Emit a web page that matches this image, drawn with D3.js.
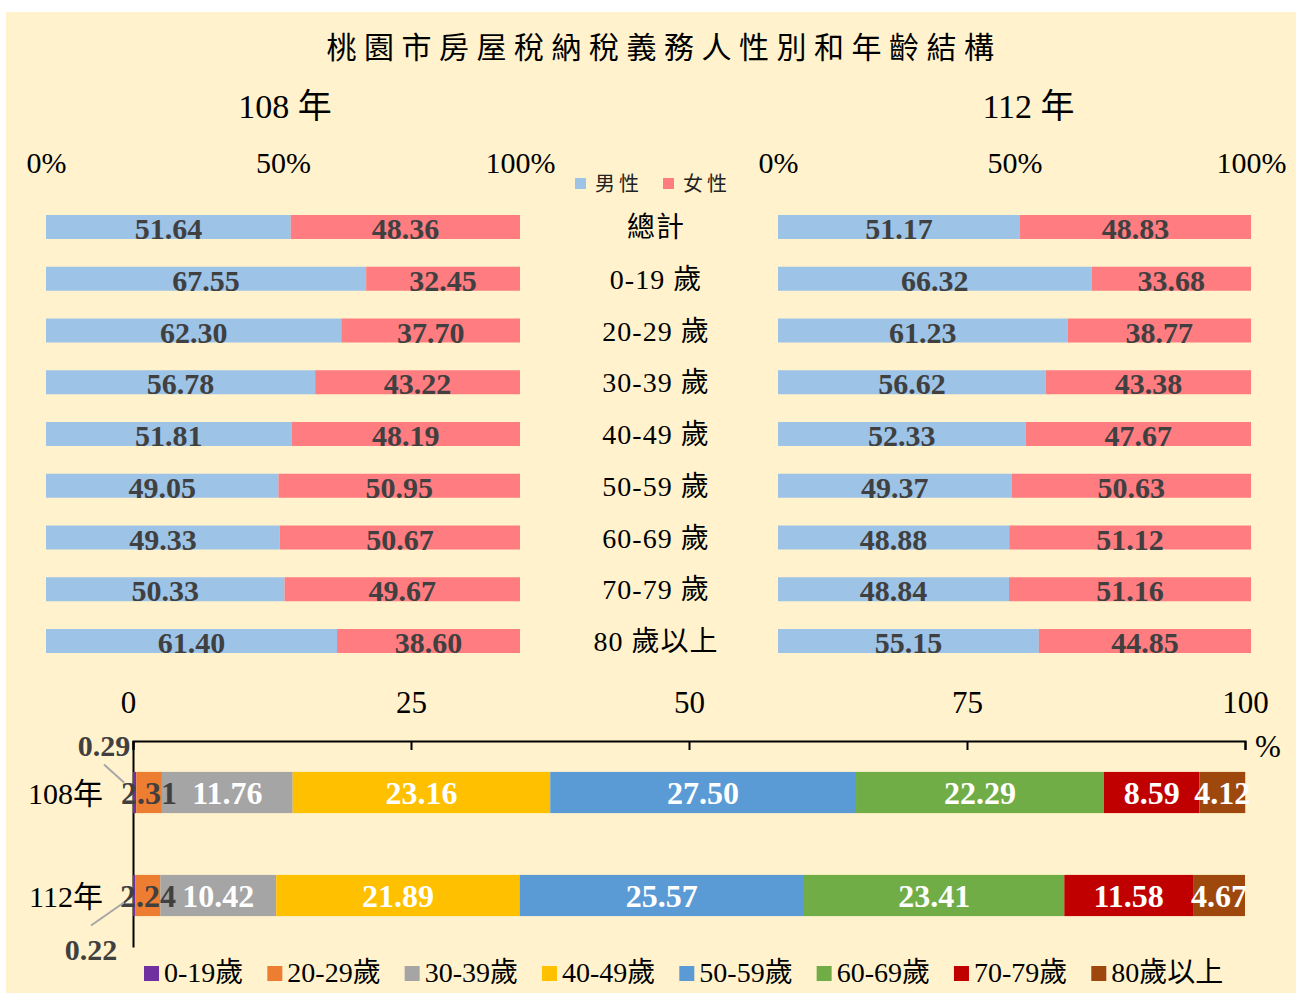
<!DOCTYPE html>
<html>
<head>
<meta charset="utf-8">
<script src="https://cdn.jsdelivr.net/npm/d3@7"></script>
<style>
body { margin: 0; background: #fff; }
text { font-family: "Liberation Serif", "Noto Sans CJK TC", serif; }
</style>
</head>
<body>
<script>
// gender split by age group (%)
const ageGroups = ["總計", "0-19 歲", "20-29 歲", "30-39 歲", "40-49 歲", "50-59 歲", "60-69 歲", "70-79 歲", "80 歲以上"];
const male108 = [51.64, 67.55, 62.30, 56.78, 51.81, 49.05, 49.33, 50.33, 61.40];
const female108 = [48.36, 32.45, 37.70, 43.22, 48.19, 50.95, 50.67, 49.67, 38.60];
const male112 = [51.17, 66.32, 61.23, 56.62, 52.33, 49.37, 48.88, 48.84, 55.15];
const female112 = [48.83, 33.68, 38.77, 43.38, 47.67, 50.63, 51.12, 51.16, 44.85];
const genders = ["男性", "女性"];
const pctTicks = [0, 50, 100];

// age structure (%)
const years = ["108年", "112年"];
const ageBands = ["0-19歲", "20-29歲", "30-39歲", "40-49歲", "50-59歲", "60-69歲", "70-79歲", "80歲以上"];
const share108 = [0.29, 2.31, 11.76, 23.16, 27.50, 22.29, 8.59, 4.12];
const share112 = [0.22, 2.24, 10.42, 21.89, 25.57, 23.41, 11.58, 4.67];
const shareTicks = [0, 25, 50, 75, 100];

const w = 1296, h = 995;
const genderColors = ["#9DC3E6", "#FF7C80"];
const ageColors = ["#7030A0", "#ED7D31", "#A5A5A5", "#FFC000", "#5B9BD5", "#70AD47", "#C00000", "#9E480E"];
const darkText = "#404040";

const svg = d3.select("body").append("svg")
    .attr("width", w)
    .attr("height", h);

// cream background panel
svg.append("rect")
    .attr("x", 6).attr("y", 12)
    .attr("width", w - 6).attr("height", h - 14)
    .attr("fill", "#FFF2CC");

// title
svg.append("text")
    .attr("x", 664).attr("y", 58)
    .attr("text-anchor", "middle")
    .attr("font-family", "'Noto Sans CJK TC'")
    .attr("font-size", 30)
    .attr("letter-spacing", 7.5)
    .text("桃園市房屋稅納稅義務人性別和年齡結構");

// ---------- gender panels ----------
const yRow = d3.scalePoint().domain(ageGroups).range([227, 641]);
const barH = 24;

const drawPanel = (x0, x1, title, titleShift, male, female) => {
    const x = d3.scaleLinear().domain([0, 100]).range([x0, x1]);

    svg.append("text")
        .attr("x", x(50) + titleShift).attr("y", 118)
        .attr("text-anchor", "middle")
        .attr("font-size", 34)
        .text(title);

    const axis = d3.axisTop(x)
        .tickValues(pctTicks)
        .tickFormat(d => d + "%")
        .tickSize(0)
        .tickPadding(0);

    const ag = svg.append("g")
        .attr("transform", `translate(0, 173)`)
        .call(axis);
    ag.select(".domain").remove();
    ag.selectAll("text")
        .attr("font-family", "Liberation Serif")
        .attr("font-size", 30)
        .attr("fill", "#000");

    const rows = ageGroups.map((g, i) => ({ g, m: male[i], f: female[i] }));

    // male segment
    svg.append("g").selectAll("rect")
        .data(rows).join("rect")
        .attr("x", x(0))
        .attr("y", d => yRow(d.g) - barH / 2)
        .attr("width", d => x(d.m) - x(0))
        .attr("height", barH)
        .attr("fill", genderColors[0]);

    // female segment
    svg.append("g").selectAll("rect")
        .data(rows).join("rect")
        .attr("x", d => x(d.m))
        .attr("y", d => yRow(d.g) - barH / 2)
        .attr("width", d => x(d.m + d.f) - x(d.m))
        .attr("height", barH)
        .attr("fill", genderColors[1]);

    // labels
    const lg = svg.append("g")
        .attr("font-weight", "bold")
        .attr("font-size", 30)
        .attr("fill", darkText)
        .attr("text-anchor", "middle");
    lg.selectAll(".lm").data(rows).join("text")
        .attr("x", d => x(d.m / 2))
        .attr("y", d => yRow(d.g) + 12)
        .text(d => d.m.toFixed(2));
    lg.selectAll(".lf").data(rows).join("text")
        .attr("x", d => x(d.m + d.f / 2))
        .attr("y", d => yRow(d.g) + 12)
        .text(d => d.f.toFixed(2));
};

drawPanel(46, 520, "108 年", 2, male108, female108);
drawPanel(778, 1251, "112 年", 14, male112, female112);

// category labels in middle
svg.append("g").selectAll("text")
    .data(ageGroups).join("text")
    .attr("x", 656)
    .attr("y", d => yRow(d) + 10)
    .attr("text-anchor", "middle")
    .attr("font-size", 28)
    .attr("letter-spacing", 1)
    .text(d => d);

// gender legend
const gl = svg.append("g").selectAll("g")
    .data(genders).join("g")
    .attr("transform", (d, i) => `translate(${575 + i * 88}, 178)`);
gl.append("rect")
    .attr("width", 11).attr("height", 11)
    .attr("fill", (d, i) => genderColors[i]);
gl.append("text")
    .attr("x", 20).attr("y", 13)
    .attr("font-family", "'Noto Sans CJK TC'")
    .attr("font-size", 20)
    .attr("letter-spacing", 4)
    .attr("fill", "#222")
    .text(d => d);

// ---------- age structure ----------
const xB = d3.scaleLinear().domain([0, 100]).range([133, 1245]);
const yB = d3.scaleBand().domain(years).range([741, 947])
    .paddingInner(0.6).paddingOuter(0.3);

const topAxis = d3.axisTop(xB)
    .tickValues(shareTicks)
    .tickSizeInner(-9)
    .tickSizeOuter(-9)
    .tickPadding(28);
const tg = svg.append("g")
    .attr("transform", "translate(0, 741)")
    .call(topAxis);
tg.selectAll("path, line").attr("stroke", "#000").attr("stroke-width", 2);
tg.selectAll("text")
    .attr("font-family", "Liberation Serif")
    .attr("font-size", 31)
    .attr("fill", "#000");
tg.selectAll(".tick text").attr("dx", (d, i) => i === 0 ? -5 : 0);

svg.append("text")
    .attr("x", xB(100) + 23).attr("y", 757)
    .attr("text-anchor", "middle")
    .attr("font-size", 31)
    .text("%");

const leftAxis = d3.axisLeft(yB).tickSize(0).tickPadding(30);
const lgx = svg.append("g")
    .attr("transform", `translate(${xB(0)}, 0)`)
    .call(leftAxis);
lgx.select(".domain").attr("stroke", "#000").attr("stroke-width", 2);
lgx.selectAll("text")
    .attr("font-size", 30)
    .attr("fill", "#000")
    .attr("dy", "0.38em");

const stacks = [share108, share112].map((vals, yi) => {
    let acc = 0;
    return vals.map((v, i) => {
        const s = { year: years[yi], band: i, v, x0: acc, x1: acc + v };
        acc += v;
        return s;
    });
});
const segs = stacks.flat();

svg.append("g").selectAll("rect")
    .data(segs).join("rect")
    .attr("x", d => xB(d.x0))
    .attr("y", d => yB(d.year))
    .attr("width", d => xB(d.x1) - xB(d.x0))
    .attr("height", yB.bandwidth())
    .attr("fill", d => ageColors[d.band]);

svg.append("g")
    .attr("font-weight", "bold")
    .attr("font-size", 32)
    .attr("text-anchor", "middle")
    .selectAll("text")
    .data(segs.filter(d => d.band > 0)).join("text")
    .attr("x", d => xB((d.x0 + d.x1) / 2))
    .attr("y", d => yB(d.year) + yB.bandwidth() / 2 + 11)
    .attr("fill", d => d.band === 1 ? darkText : "#fff")
    .text(d => d.v.toFixed(2));

// outside labels for the thin 0-19 segments, with leader lines
const c108 = yB("108年") + yB.bandwidth() / 2;
const c112 = yB("112年") + yB.bandwidth() / 2;
const outside = [
    { v: share108[0], lx: xB(0) - 29, ly: c108 - 37, x1: xB(0) - 29, y1: c108 - 28, x2: xB(0) - 9, y2: c108 - 10 },
    { v: share112[0], lx: xB(0) - 42, ly: c112 + 64, x1: xB(0) - 42, y1: c112 + 30, x2: xB(0) - 9, y2: c112 + 7 }
];
svg.append("g").selectAll("line")
    .data(outside).join("line")
    .attr("x1", d => d.x1).attr("y1", d => d.y1)
    .attr("x2", d => d.x2).attr("y2", d => d.y2)
    .attr("stroke", "#A6A6A6")
    .attr("stroke-width", 2);
svg.append("g").selectAll("text")
    .data(outside).join("text")
    .attr("x", d => d.lx).attr("y", d => d.ly)
    .attr("text-anchor", "middle")
    .attr("font-weight", "bold")
    .attr("font-size", 30)
    .attr("fill", darkText)
    .text(d => d.v.toFixed(2));

// age legend, items laid out by text width
const al = svg.append("g").selectAll("g")
    .data(ageBands).join("g");
al.append("rect")
    .attr("y", 966)
    .attr("width", 15).attr("height", 15)
    .attr("fill", (d, i) => ageColors[i]);
al.append("text")
    .attr("x", 20).attr("y", 982)
    .attr("font-size", 28)
    .text(d => d);
let lx = 144;
al.each(function() {
    const g = d3.select(this);
    g.attr("transform", `translate(${lx}, 0)`);
    lx += 20 + g.select("text").node().getComputedTextLength() + 24;
});
</script>
</body>
</html>
